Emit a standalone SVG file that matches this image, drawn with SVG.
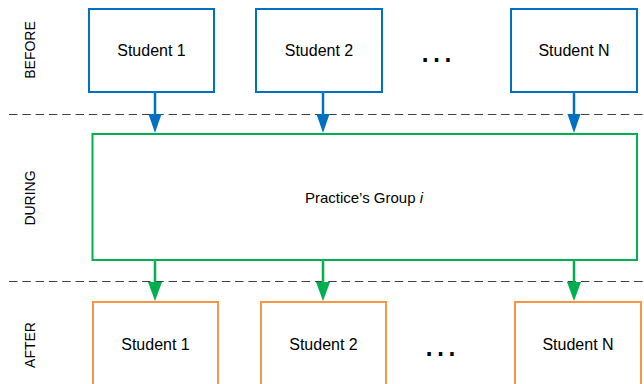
<svg xmlns="http://www.w3.org/2000/svg" width="644" height="384" viewBox="0 0 644 384">
<style>
text{font-family:"Liberation Sans",Arial,sans-serif;fill:#000}
.lbl{font-size:16px;text-anchor:middle;dominant-baseline:central}
.phase{font-size:14px;text-anchor:middle;dominant-baseline:central}
.dots{font-size:36px;text-anchor:middle}
.blue{fill:#fff;stroke:#0070C0;stroke-width:2}
.green{fill:#fff;stroke:#00B050;stroke-width:2}
.orange{fill:#fff;stroke:#F79646;stroke-width:2}
.dash{stroke:#404040;stroke-width:1;stroke-dasharray:8.5 4.8;fill:none}
.ab{stroke:#0070C0;stroke-width:2.5;fill:none;marker-end:url(#mb)}
.ag{stroke:#00B050;stroke-width:2.5;fill:none;marker-end:url(#mg)}
</style>
<defs>
<marker id="mb" markerUnits="userSpaceOnUse" markerWidth="19" markerHeight="13" refX="9" refY="6.5" orient="auto"><path d="M0,0 L19,6.5 L0,13 z" fill="#0070C0"/></marker>
<marker id="mg" markerUnits="userSpaceOnUse" markerWidth="19" markerHeight="14" refX="9" refY="7" orient="auto"><path d="M0,0 L19,7 L0,14 z" fill="#00B050"/></marker>
</defs>
<g id="phases">
<line class="dash" x1="9" y1="114.5" x2="644" y2="114.5"/>
<line class="dash" x1="9" y1="281.5" x2="644" y2="281.5"/>
<text class="phase" transform="translate(30,50) rotate(-90)">BEFORE</text>
<text class="phase" transform="translate(30,198) rotate(-90)">DURING</text>
<text class="phase" transform="translate(30,345) rotate(-90)">AFTER</text>
</g>
<g id="connectors">
<line class="ab" x1="155" y1="92" x2="155" y2="123"/>
<line class="ab" x1="323" y1="92" x2="323" y2="123"/>
<line class="ab" x1="574" y1="92" x2="574" y2="123"/>
<line class="ag" x1="155" y1="260" x2="155" y2="291"/>
<line class="ag" x1="323" y1="260" x2="323" y2="291"/>
<line class="ag" x1="574" y1="260" x2="574" y2="291"/>
</g>
<g id="before1"><rect class="blue" x="89" y="9" width="125" height="83"/><text class="lbl" x="151.5" y="50.5">Student 1</text></g>
<g id="before2"><rect class="blue" x="256" y="9" width="126" height="83"/><text class="lbl" x="319" y="50.5">Student 2</text></g>
<g id="beforeDots"><text class="dots" x="436.5" y="62">…</text></g>
<g id="beforeN"><rect class="blue" x="511" y="9" width="126" height="83"/><text class="lbl" x="574" y="50.5">Student N</text></g>
<g id="group"><rect class="green" x="92.5" y="134" width="544.5" height="126"/><text class="lbl" x="364" y="197" style="font-size:15px">Practice’s Group <tspan font-style="italic">i</tspan></text></g>
<g id="after1"><rect class="orange" x="93" y="302" width="125" height="100"/><text class="lbl" x="155.5" y="344">Student 1</text></g>
<g id="after2"><rect class="orange" x="261" y="302" width="125" height="100"/><text class="lbl" x="323.5" y="344">Student 2</text></g>
<g id="afterDots"><text class="dots" x="440.5" y="356">…</text></g>
<g id="afterN"><rect class="orange" x="515" y="302" width="126" height="100"/><text class="lbl" x="578" y="344">Student N</text></g>
</svg>
